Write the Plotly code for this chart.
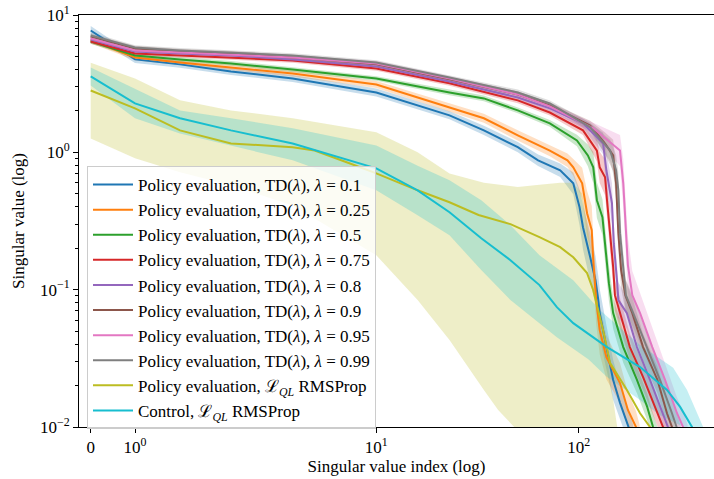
import numpy as np
import plotly.graph_objects as go

# ---------------- data ----------------
labels = [
    "Policy evaluation, TD(<i>λ</i>), <i>λ</i> = 0.1",
    "Policy evaluation, TD(<i>λ</i>), <i>λ</i> = 0.25",
    "Policy evaluation, TD(<i>λ</i>), <i>λ</i> = 0.5",
    "Policy evaluation, TD(<i>λ</i>), <i>λ</i> = 0.75",
    "Policy evaluation, TD(<i>λ</i>), <i>λ</i> = 0.8",
    "Policy evaluation, TD(<i>λ</i>), <i>λ</i> = 0.9",
    "Policy evaluation, TD(<i>λ</i>), <i>λ</i> = 0.95",
    "Policy evaluation, TD(<i>λ</i>), <i>λ</i> = 0.99",
    "Policy evaluation, ℒ<sub><i>QL</i></sub> RMSProp",
    "Control, ℒ<sub><i>QL</i></sub> RMSProp",
]
colors = ["#1f77b4", "#ff7f0e", "#2ca02c", "#d62728", "#9467bd",
          "#8c564b", "#e377c2", "#7f7f7f", "#bcbd22", "#17becf"]

td01_idx = [0, 1, 2, 3, 5, 10, 23, 34, 50, 63, 81, 94, 101, 105, 114, 121, 125, 127, 137, 148, 160, 176, 186]
td01_val = [7.71, 4.75, 4.37, 3.88, 3.45, 2.73, 1.86, 1.445, 1.09, 0.875, 0.74, 0.595, 0.398, 0.285,
            0.172, 0.117, 0.0839, 0.0675, 0.0382, 0.022, 0.015, 0.01, 0.008]
td01_spr = [1.08, 1.06, 1.06, 1.06, 1.06, 1.07, 1.07, 1.08, 1.09, 1.10, 1.12, 1.2, 1.35, 1.45,
            1.5, 1.5, 1.5, 1.5, 1.45, 1.4, 1.35, 1.3, 1.3]

td025_idx = [0, 1, 2, 3, 5, 10, 23, 34, 50, 72, 88, 94, 104, 110, 116, 118, 122, 127, 137, 160, 175, 192, 200]
td025_val = [6.53, 4.91, 4.51, 4.15, 3.75, 3.12, 2.12, 1.77, 1.33, 1.03, 0.875, 0.778, 0.595, 0.36,
             0.271, 0.164, 0.0839, 0.0507, 0.0323, 0.0209, 0.0133, 0.01, 0.008]
td025_spr = [1.05, 1.05, 1.05, 1.05, 1.05, 1.06, 1.07, 1.08, 1.09, 1.1, 1.12, 1.15, 1.3, 1.45,
             1.5, 1.5, 1.5, 1.5, 1.45, 1.4, 1.35, 1.3, 1.3]

td05_idx = [0, 1, 2, 3, 5, 10, 23, 34, 50, 72, 98, 111, 118, 123, 131, 136, 141, 148, 166, 194, 218, 233, 245]
td05_val = [6.42, 5.07, 4.75, 4.44, 4.01, 3.45, 2.73, 2.47, 2.02, 1.625, 1.22, 0.95, 0.778, 0.448,
            0.337, 0.194, 0.1115, 0.0675, 0.0382, 0.022, 0.014, 0.01, 0.008]
td05_spr = [1.04, 1.04, 1.04, 1.04, 1.04, 1.04, 1.05, 1.05, 1.05, 1.06, 1.1, 1.2, 1.3, 1.35,
            1.35, 1.35, 1.35, 1.3, 1.3, 1.25, 1.25, 1.25, 1.25]

td075_idx = [0, 1, 2, 3, 5, 10, 23, 50, 72, 105, 123, 127, 135, 138, 143, 148, 151, 160, 179, 208, 239, 261, 275]
td075_val = [6.42, 5.25, 5.07, 4.91, 4.67, 4.08, 3.18, 2.39, 1.95, 1.445, 1.03, 0.778, 0.658, 0.448,
             0.258, 0.146, 0.0912, 0.0675, 0.0382, 0.0231, 0.014, 0.01, 0.008]
td075_spr = [1.04, 1.04, 1.04, 1.04, 1.04, 1.04, 1.04, 1.05, 1.05, 1.08, 1.2, 1.3, 1.35, 1.35,
             1.35, 1.35, 1.3, 1.3, 1.25, 1.25, 1.25, 1.25, 1.25]

td08_idx = [0, 1, 2, 3, 5, 10, 23, 50, 72, 105, 132, 137, 146, 149, 155, 157, 173, 194, 225, 261, 276, 290]
td08_val = [6.63, 5.43, 5.25, 5.07, 4.75, 4.22, 3.28, 2.51, 2.09, 1.625, 1.16, 0.74, 0.426, 0.218,
            0.1115, 0.0839, 0.0675, 0.0382, 0.022, 0.0126, 0.01, 0.008]
td08_spr = [1.04, 1.04, 1.04, 1.04, 1.04, 1.04, 1.04, 1.05, 1.05, 1.08, 1.2, 1.35, 1.4, 1.4,
            1.35, 1.35, 1.3, 1.3, 1.25, 1.25, 1.25, 1.25]

td09_idx = [0, 1, 2, 3, 5, 10, 23, 50, 72, 114, 135, 148, 153, 157, 162, 170, 184, 208, 245, 273, 289, 300]
td09_val = [6.98, 5.71, 5.43, 5.25, 4.91, 4.37, 3.40, 2.64, 2.20, 1.57, 1.16, 0.95, 0.595, 0.258,
            0.139, 0.0912, 0.0675, 0.0382, 0.022, 0.0126, 0.01, 0.008]
td09_spr = [1.04, 1.04, 1.04, 1.04, 1.04, 1.04, 1.04, 1.05, 1.05, 1.08, 1.2, 1.3, 1.35, 1.35,
            1.35, 1.3, 1.3, 1.25, 1.25, 1.25, 1.25, 1.25]

td095_idx = [0, 1, 2, 3, 5, 10, 23, 50, 72, 118, 160, 166, 171, 175, 184, 201, 231, 267, 306, 328, 345]
td095_val = [6.75, 5.52, 5.34, 5.16, 4.91, 4.44, 3.45, 2.64, 2.16, 1.495, 1.03, 0.595, 0.285, 0.151,
             0.0912, 0.0675, 0.0382, 0.022, 0.0126, 0.01, 0.008]
td095_spr = [1.04, 1.04, 1.04, 1.04, 1.04, 1.04, 1.04, 1.05, 1.06, 1.1, 1.3, 1.5, 1.6, 1.6,
             1.5, 1.4, 1.35, 1.3, 1.3, 1.3, 1.3]

td099_idx = [0, 1, 2, 3, 5, 10, 23, 50, 72, 114, 143, 153, 157, 160, 166, 171, 186, 218, 252, 289, 306, 320]
td099_val = [7.10, 5.80, 5.52, 5.34, 5.07, 4.51, 3.51, 2.73, 2.27, 1.52, 1.03, 0.74, 0.529, 0.258,
             0.139, 0.0912, 0.0675, 0.0382, 0.022, 0.0126, 0.01, 0.008]
td099_spr = [1.05, 1.04, 1.04, 1.04, 1.04, 1.04, 1.04, 1.05, 1.05, 1.08, 1.2, 1.3, 1.35, 1.35,
             1.35, 1.3, 1.3, 1.25, 1.25, 1.25, 1.25, 1.25]

pe_idx = [0, 1, 2, 3, 5, 6, 8, 10, 16, 23, 32, 46, 64, 81, 94, 110, 118, 132, 143, 173, 201, 225, 240]
pe_val = [2.82, 2.09, 1.445, 1.16, 1.09, 1.03, 0.832, 0.703, 0.529, 0.433, 0.35, 0.30, 0.241, 0.204,
          0.172, 0.132, 0.099, 0.0507, 0.0292, 0.0186, 0.0126, 0.01, 0.008]
pe_hi_idx = [0, 1, 2, 3, 5, 10, 16, 23, 34, 50, 64, 81, 94, 104, 110, 118, 125, 135, 145, 155, 170]
pe_hi = [4.5, 3.45, 2.39, 2.02, 1.77, 1.40, 1.0, 0.70, 0.60, 0.56, 0.58, 0.60, 0.60, 0.5, 0.3, 0.15,
         0.08, 0.04, 0.02, 0.01, 0.006]
pe_lo_idx = [0, 1, 2, 3, 5, 10, 14, 16, 23, 34, 40, 48, 55]
pe_lo = [1.26, 0.904, 0.715, 0.575, 0.41, 0.178, 0.104, 0.084, 0.043, 0.0186, 0.0133, 0.01, 0.008]

ctl_idx = [0, 1, 2, 3, 5, 8, 10, 16, 23, 33, 46, 64, 78, 94, 138, 201, 273, 317, 363, 390]
ctl_val = [3.57, 2.27, 1.77, 1.445, 1.16, 0.875, 0.765, 0.529, 0.366, 0.237, 0.164, 0.108, 0.0746,
           0.057, 0.0382, 0.0273, 0.0186, 0.014, 0.01, 0.008]
ctl_hi_idx = [0, 1, 2, 3, 5, 10, 16, 23, 33, 46, 64, 94, 127, 201, 293, 343, 412, 440]
ctl_hi = [4.15, 2.92, 2.02, 1.77, 1.5, 1.12, 0.80, 0.626, 0.448, 0.295, 0.178, 0.117, 0.071, 0.0395,
          0.027, 0.0186, 0.01, 0.008]
ctl_lo_idx = [0, 1, 2, 3, 5, 10, 16, 23, 33, 46, 64, 78, 112, 137, 201, 250, 330, 350]
ctl_lo = [3.07, 1.77, 1.37, 1.12, 0.875, 0.529, 0.348, 0.249, 0.139, 0.084, 0.057, 0.045, 0.031,
          0.0233, 0.0157, 0.0123, 0.01, 0.008]

x_tick_idx = [0, 1, 10, 100]
x_tick_text = ["0", "10<sup>0</sup>", "10<sup>1</sup>", "10<sup>2</sup>"]
y_tick_vals = [0.01, 0.1, 1, 10]
y_tick_text = ["10<sup>−2</sup>", "10<sup>−1</sup>", "10<sup>0</sup>", "10<sup>1</sup>"]

# ---------------- x scale (symlog-like) ----------------
SCALE_W = [-1.0, 0.0, np.log10(2), np.log10(3), 1.0, 2.0, 3.0]
SCALE_P = [0.0, 44.3, 89.3, 140.3, 285.6, 488.0, 690.4]


def xs(idx):
    idx = np.asarray(idx, dtype=float)
    w = np.where(idx >= 1, np.log10(np.maximum(idx, 1.0)), idx - 1.0)
    return np.interp(w, SCALE_W, SCALE_P)


def rgba(hexc, a):
    h = hexc.lstrip("#")
    r, g, b = int(h[0:2], 16), int(h[2:4], 16), int(h[4:6], 16)
    return f"rgba({r},{g},{b},{a})"


td_series = [
    (td01_idx, td01_val, td01_spr),
    (td025_idx, td025_val, td025_spr),
    (td05_idx, td05_val, td05_spr),
    (td075_idx, td075_val, td075_spr),
    (td08_idx, td08_val, td08_spr),
    (td09_idx, td09_val, td09_spr),
    (td095_idx, td095_val, td095_spr),
    (td099_idx, td099_val, td099_spr),
]

fig = go.Figure()
ALPHA = 0.25

# bands first (below all lines)
for k, (ix, v, s) in enumerate(td_series):
    v = np.array(v); s = np.array(s)
    xx = np.concatenate([xs(ix), xs(ix)[::-1]])
    yy = np.concatenate([v * s, (v / s)[::-1]])
    fig.add_trace(go.Scatter(x=xx, y=yy, fill="toself", mode="lines", line=dict(width=0),
                             fillcolor=rgba(colors[k], ALPHA), showlegend=False, hoverinfo="skip"))

for k, (hi_i, hi, lo_i, lo) in [(8, (pe_hi_idx, pe_hi, pe_lo_idx, pe_lo)),
                                (9, (ctl_hi_idx, ctl_hi, ctl_lo_idx, ctl_lo))]:
    xx = np.concatenate([xs(hi_i), xs(lo_i)[::-1]])
    yy = np.concatenate([np.array(hi), np.array(lo)[::-1]])
    fig.add_trace(go.Scatter(x=xx, y=yy, fill="toself", mode="lines", line=dict(width=0),
                             fillcolor=rgba(colors[k], ALPHA), showlegend=False, hoverinfo="skip"))

line_data = [(ix, v) for ix, v, _ in td_series] + [(pe_idx, pe_val), (ctl_idx, ctl_val)]
for k, (ix, v) in enumerate(line_data):
    fig.add_trace(go.Scatter(x=xs(ix), y=v, mode="lines", name=labels[k],
                             line=dict(color=colors[k], width=2)))

FONT = "Liberation Serif, Times New Roman, serif"
L, R, T, B = 79, 0, 15, 52
W, H = 714, 479
x0 = -11.7
x1 = x0 + (W - L - R)

fig.update_layout(
    width=W, height=H,
    margin=dict(l=L, r=R, t=T, b=B, autoexpand=False),
    plot_bgcolor="white", paper_bgcolor="white",
    font=dict(family=FONT, size=17, color="black"),
    showlegend=True,
    legend=dict(x=(87 - L) / (W - L - R), y=1 - (166 - T) / (H - T - B),
                xanchor="left", yanchor="top",
                bgcolor="rgba(255,255,255,0.8)", bordercolor="#cccccc", borderwidth=1,
                font=dict(family=FONT, size=17), tracegroupgap=0, itemwidth=40),
    xaxis=dict(range=[x0, x1], showgrid=False, zeroline=False,
               showline=True, linecolor="black", linewidth=1, mirror=True,
               ticks="outside", ticklen=5, tickwidth=1, tickcolor="black",
               tickmode="array", tickvals=list(xs(x_tick_idx)), ticktext=x_tick_text,
               tickfont=dict(size=17),
               title=dict(text="Singular value index (log)", font=dict(size=17), standoff=3)),
    yaxis=dict(type="log", range=[-2, 1], showgrid=False, zeroline=False,
               showline=True, linecolor="black", linewidth=1, mirror=False,
               ticks="outside", ticklen=5, tickwidth=1, tickcolor="black",
               tickmode="array", tickvals=y_tick_vals, ticktext=y_tick_text,
               tickfont=dict(size=17),
               minor=dict(ticks="outside", ticklen=3, tickwidth=1, tickcolor="black",
                          tickmode="array",
                          tickvals=[m * 10.0 ** e for e in (-2, -1, 0) for m in range(2, 10)],
                          showgrid=False),
               title=dict(text="Singular value (log)", font=dict(size=17), standoff=10)),
)

fig.write_html("out.html", config={"displayModeBar": False},
               post_script="document.body.style.margin='0px';")
